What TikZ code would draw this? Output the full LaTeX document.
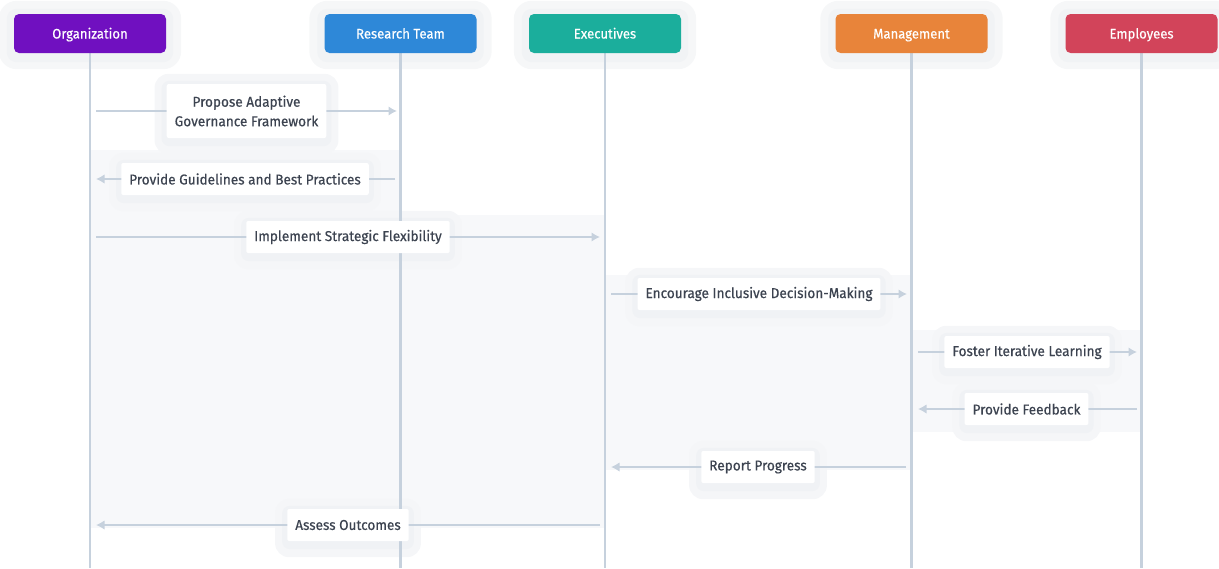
\documentclass[tikz,border=0pt]{standalone}
\usepackage{fontspec}
\setmainfont{Fira Sans}
\newfontfamily\lblfont{Fira Sans}[FakeBold=0.5, FakeStretch=0.95]
\newfontfamily\actfont{Fira Sans}[FakeBold=0.3, FakeStretch=0.95]
\usetikzlibrary{arrows.meta}
\definecolor{cOrg}{HTML}{7010C0}
\definecolor{cRes}{HTML}{2E88D8}
\definecolor{cExe}{HTML}{1BAE9C}
\definecolor{cMan}{HTML}{E8843A}
\definecolor{cEmp}{HTML}{D2445A}
\definecolor{lineC}{HTML}{C6D1DD}
\definecolor{txtC}{HTML}{3C4350}
\definecolor{regC}{HTML}{F7F8FA}
\definecolor{glowOut}{HTML}{F5F6F8}
\definecolor{glowIn}{HTML}{F0F2F5}
\definecolor{aglowOut}{HTML}{F6F7F8}
\definecolor{aglowIn}{HTML}{F1F3F5}
\pgfdeclarelayer{regions}
\pgfdeclarelayer{glow}
\pgfdeclarelayer{lines}
\pgfsetlayers{regions,glow,lines,main}
\begin{document}
\begin{tikzpicture}[x=1pt,y=-1pt,
  actor/.style={rounded corners=5pt, minimum width=152pt, minimum height=39pt,
    inner sep=0pt, text height=11.5pt, text depth=1.5pt, text=white,
    font=\actfont\fontsize{13.8}{16}\selectfont},
  lifeline/.style={draw=lineC, line width=2.6pt},
  msg/.style={draw=lineC, line width=2.6pt, -{Latex[length=8.5pt,width=9.5pt]}},
  lbl/.style={fill=white, rounded corners=2pt, inner xsep=8pt, inner ysep=0pt,
    minimum height=32pt, text=txtC, align=center,
    font=\lblfont\fontsize{14.3}{19.5}\selectfont},
  region/.style={fill=regC}]
\useasboundingbox (0,0) rectangle (1219,568);

% shaded regions
\begin{pgfonlayer}{regions}
  \fill[region] (90,150) rectangle (400,528);
  \fill[region] (400,215) rectangle (605,528);
  \fill[region] (605,275) rectangle (911,470);
  \fill[region] (911,330) rectangle (1141,432);
\end{pgfonlayer}

% participants
\node[actor, fill=cOrg] (org) at (90,33.5) {Organization};
\node[actor, fill=cRes] (res) at (400.5,33.5) {Research Team};
\node[actor, fill=cExe] (exe) at (605,33.5) {Executives};
\node[actor, fill=cMan] (man) at (911.5,33.5) {Management};
\node[actor, fill=cEmp] (emp) at (1141.5,33.5) {Employees};

\begin{pgfonlayer}{glow}
  \foreach \p in {org,res,exe,man,emp}{
    \fill[fill=aglowOut, rounded corners=18pt]
      ([shift={(-15,-13)}]\p.north west) rectangle ([shift={(15,16)}]\p.south east);
    \fill[fill=aglowIn, rounded corners=10pt]
      ([shift={(-7,-5)}]\p.north west) rectangle ([shift={(7,9)}]\p.south east);
  }
\end{pgfonlayer}

% lifelines
\coordinate (orgE) at (90,568);
\coordinate (resE) at (400.5,568);
\coordinate (exeE) at (605,568);
\coordinate (manE) at (911.5,568);
\coordinate (empE) at (1141.5,568);
\begin{pgfonlayer}{lines}
  \draw[lifeline] (org.south) -- (orgE);
  \draw[lifeline] (res.south) -- (resE);
  \draw[lifeline] (exe.south) -- (exeE);
  \draw[lifeline] (man.south) -- (manE);
  \draw[lifeline] (emp.south) -- (empE);
\end{pgfonlayer}

% message end points
\coordinate (m1a) at (96,111);  \coordinate (m1b) at (397,111);
\coordinate (m2a) at (395,179); \coordinate (m2b) at (96,179);
\coordinate (m3a) at (96,237);  \coordinate (m3b) at (600,237);
\coordinate (m4a) at (611,294); \coordinate (m4b) at (907,294);
\coordinate (m5a) at (918,352); \coordinate (m5b) at (1137,352);
\coordinate (m6a) at (1137,409);\coordinate (m6b) at (918,409);
\coordinate (m7a) at (906,467); \coordinate (m7b) at (611,467);
\coordinate (m8a) at (600,525); \coordinate (m8b) at (96,525);

\begin{pgfonlayer}{lines}
  \draw[msg] (m1a) -- (m1b);
  \draw[msg] (m2a) -- (m2b);
  \draw[msg] (m3a) -- (m3b);
  \draw[msg] (m4a) -- (m4b);
  \draw[msg] (m5a) -- (m5b);
  \draw[msg] (m6a) -- (m6b);
  \draw[msg] (m7a) -- (m7b);
  \draw[msg] (m8a) -- (m8b);
\end{pgfonlayer}

% labels
\node[lbl, minimum height=54pt] (l1) at (246.5,111) {Propose Adaptive\\Governance Framework};
\node[lbl] (l2) at (245,179) {Provide Guidelines and Best Practices};
\node[lbl] (l3) at (348,237) {Implement Strategic Flexibility};
\node[lbl] (l4) at (759,294) {Encourage Inclusive Decision-Making};
\node[lbl] (l5) at (1027,352) {Foster Iterative Learning};
\node[lbl] (l6) at (1026.5,409) {Provide Feedback};
\node[lbl] (l7) at (758,467) {Report Progress};
\node[lbl] (l8) at (348,525) {Assess Outcomes};

\begin{pgfonlayer}{glow}
  \foreach \l in {l1,l2,l3,l4,l5,l6,l7,l8}{
    \fill[fill=glowOut, rounded corners=14pt]
      ([shift={(-12,-10)}]\l.north west) rectangle ([shift={(12,16)}]\l.south east);
    \fill[fill=glowIn, rounded corners=8pt]
      ([shift={(-5,-3)}]\l.north west) rectangle ([shift={(5,8)}]\l.south east);
  }
\end{pgfonlayer}
\end{tikzpicture}
\end{document}
